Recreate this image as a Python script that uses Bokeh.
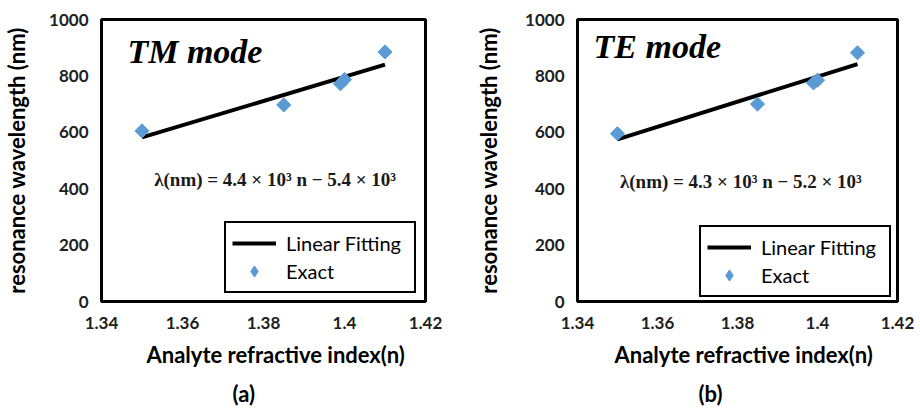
from bokeh.plotting import figure
from bokeh.layouts import row
from bokeh.models import FixedTicker, Label, Legend, LegendItem, Range1d, Title
from bokeh.embed import file_html
from bokeh.resources import INLINE
import numpy as np

# ---- data ----
x_ticks = [1.34, 1.36, 1.38, 1.4, 1.42]
x_tick_labels = ["1.34", "1.36", "1.38", "1.4", "1.42"]
y_ticks = [0, 200, 400, 600, 800, 1000]

tm_n = [1.35, 1.385, 1.399, 1.40, 1.41]
tm_wl = [605, 697, 772, 787, 885]
tm_fit_n = [1.35, 1.41]
tm_fit_wl = [582, 840]

te_n = [1.35, 1.385, 1.399, 1.40, 1.41]
te_wl = [595, 700, 775, 785, 882]
te_fit_n = [1.35, 1.41]
te_fit_wl = [575, 842]

FONT = "Lato"
BLUE = "#5B9BD5"


def make_panel(n, wl, fit_n, fit_wl, mode_text, eq_text, panel_tag,
               mode_pos, eq_pos, borders, legend_loc, xtitle_offset, tag_offset,
               ylab_standoff):
    left, right, top, bottom = borders
    p = figure(width=460, height=409, output_backend="svg", toolbar_location=None,
               x_range=Range1d(1.34, 1.42), y_range=Range1d(0, 1000),
               min_border_left=left, min_border_right=right,
               min_border_top=top, min_border_bottom=bottom)
    p.grid.visible = False
    p.outline_line_color = "black"
    p.outline_line_width = 3
    p.outline_line_alpha = 1
    p.background_fill_color = "white"
    p.border_fill_color = "white"

    for ax in (p.xaxis[0], p.yaxis[0]):
        ax.axis_line_color = None
        ax.major_tick_line_color = None
        ax.minor_tick_line_color = None
        ax.major_tick_out = 0
        ax.major_tick_in = 0
        ax.minor_tick_out = 0
        ax.minor_tick_in = 0
        ax.major_label_text_font = FONT
        ax.major_label_text_font_style = "bold"
        ax.major_label_text_color = "#202020"
        ax.major_label_text_font_size = "17px"
        ax.axis_label_text_font = FONT
        ax.axis_label_text_font_style = "bold"
        ax.axis_label_text_color = "black"
        ax.axis_label_text_font_size = "22px"

    p.xaxis.ticker = FixedTicker(ticks=x_ticks)
    p.xaxis.major_label_overrides = {t: l for t, l in zip(x_ticks, x_tick_labels)}
    p.yaxis.ticker = FixedTicker(ticks=y_ticks)
    p.yaxis.axis_label = "resonance wavelength (nm)"
    p.xaxis.major_label_standoff = 15
    p.yaxis.major_label_standoff = 13
    p.yaxis.axis_label_standoff = ylab_standoff

    line = p.line(fit_n, fit_wl, line_color="black", line_width=4)
    # legend key glyph (legend markers cannot be rotated); hidden under the points
    key = p.scatter(n, wl, marker="diamond", size=6, fill_color=BLUE, line_color=BLUE)
    pts = p.scatter(n, wl, marker="square", angle=np.pi / 4, size=10,
                    fill_color=BLUE, line_color=BLUE)

    legend = Legend(items=[LegendItem(label="Linear Fitting", renderers=[line]),
                           LegendItem(label="Exact", renderers=[key])],
                    location=legend_loc)
    legend.border_line_color = "black"
    legend.border_line_width = 2
    legend.border_line_alpha = 1
    legend.label_text_font = FONT
    legend.label_text_font_size = "20px"
    legend.label_text_color = "black"
    legend.glyph_width = 44
    legend.glyph_height = 28
    legend.label_height = 20
    legend.label_width = 122
    legend.label_standoff = 10
    legend.spacing = -2
    legend.padding = 6
    legend.margin = 0
    legend.background_fill_alpha = 1
    p.add_layout(legend, "center")

    p.add_layout(Label(x=mode_pos[0], y=mode_pos[1], text=mode_text,
                       text_font="Liberation Serif", text_font_style="bold italic",
                       text_font_size="34px", text_color="black",
                       text_baseline="alphabetic"))
    p.add_layout(Label(x=eq_pos[0], y=eq_pos[1], text=eq_text,
                       text_font="Liberation Serif", text_font_style="bold",
                       text_font_size="19px", text_color="#1a1a1a",
                       text_baseline="alphabetic"))
    p.add_layout(Title(text="Analyte refractive index(n)", align="left",
                       offset=xtitle_offset, standoff=14,
                       text_font=FONT, text_font_style="bold",
                       text_font_size="22px", text_color="black"), "below")
    p.add_layout(Title(text=panel_tag, align="left", offset=tag_offset, standoff=6,
                       text_font=FONT, text_font_style="bold",
                       text_font_size="22px", text_color="black"), "below")
    return p


pa = make_panel(tm_n, tm_wl, tm_fit_n, tm_fit_wl, "TM mode",
                "λ(nm) = 4.4 × 10³ n − 5.4 × 10³", "(a)",
                (1.3464, 888), (1.353, 433), (99, 35, 16, 107), (123, 8), 45, 131, 16)
pb = make_panel(te_n, te_wl, te_fit_n, te_fit_wl, "TE mode",
                "λ(nm) = 4.3 × 10³ n − 5.2 × 10³", "(b)",
                (1.344, 905), (1.3506, 427), (117, 23, 19, 107), (122, 4), 37, 121, 20)

layout = row(pa, pb)
open("out.html", "w").write(file_html(layout, INLINE))
